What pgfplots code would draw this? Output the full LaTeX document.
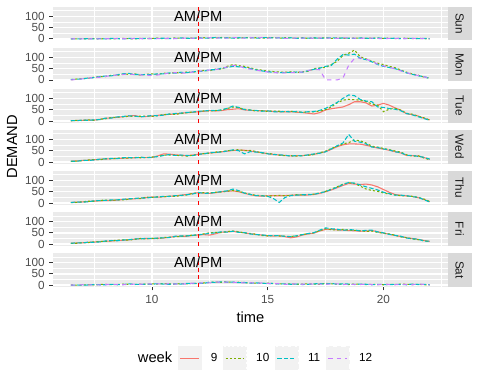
\documentclass[border=0pt]{standalone}
\usepackage{fontspec}
\setmainfont{Liberation Sans}
\usepackage{pgfplots}
\usepackage{pgfplotstable}
\pgfplotsset{compat=1.18}
\definecolor{c9}{HTML}{F8766D}
\definecolor{c10}{HTML}{7CAE00}
\definecolor{c11}{HTML}{00BFC4}
\definecolor{c12}{HTML}{C77CFF}
\definecolor{panelbg}{HTML}{EBEBEB}
\definecolor{stripbg}{HTML}{D9D9D9}
\definecolor{keybg}{HTML}{F2F2F2}
\definecolor{g30}{HTML}{4D4D4D}
\definecolor{g20}{HTML}{333333}
\definecolor{g10}{HTML}{1A1A1A}

% Sun: a=10 b=11 c=12
\pgfplotstableread{
x a b c
6.5 0 0 0
6.75 0 0 1
7 1 0 0
7.25 0 1 0
7.5 1 0 1
7.75 0 1 0
8 1 0 1
8.25 0 2 0
8.5 1 1 2
8.75 2 0 1
9 1 2 0
9.25 0 1 2
9.5 2 1 1
9.75 1 3 0
10 2 1 2
10.25 3 2 1
10.5 1 3 2
10.75 2 1 3
11 4 2 1
11.25 3 4 2
11.5 2 3 4
11.75 4 2 3
12 3 5 2
12.25 5 3 4
12.5 3 4 5
12.75 4 6 3
13 6 4 5
13.25 4 5 3
13.5 5 3 6
13.75 3 5 4
14 6 4 3
14.25 4 6 5
14.5 5 3 4
14.75 3 5 6
15 4 6 3
15.25 6 4 5
15.5 3 5 4
15.75 5 3 2
16 4 5 3
16.25 3 2 4
16.5 5 4 3
16.75 2 3 5
17 4 5 2
17.25 3 2 4
17.5 5 4 3
17.75 2 5 4
18 4 3 2
18.25 3 4 5
18.5 2 3 4
18.75 4 2 3
19 3 4 2
19.25 2 3 4
19.5 4 2 3
19.75 3 4 2
20 2 3 1
20.25 3 2 2
20.5 1 3 2
20.75 2 1 3
21 3 2 1
21.25 1 2 2
21.5 2 1 3
21.75 1 2 1
22 0 1 0
}\tSun

% Mon: a=10 b=11 c=12
\pgfplotstableread{
x a b c
6.5 1 2 0
6.75 4 3 2
7 6 4 5
7.25 7 9 8
7.5 12 10 11
7.75 14 15 12
8 15 17 16
8.25 21 18 19
8.5 20 23 22
8.75 26 27 24
9 25 29 27
9.25 27 24 23
9.5 21 24 22
9.75 25 23 21
10 27 24 20
10.25 24 27 22
10.5 30 27 26
10.75 28 31 30
11 33 30 32
11.25 30 34 31
11.5 35 32 30
11.75 33 36 35
12 40 37 38
12.25 42 39 41
12.5 41 45 44
12.75 48 45 46
13 47 52 49
13.25 60 55 58
13.5 68 60 64
13.75 63 58 62
14 60 55 52
14.25 53 50 48
14.5 47 44 43
14.75 43 40 39
15 39 36 35
15.25 37 34 33
15.5 35 32 31
15.75 34 33 31
16 36 33 32
16.25 33 35 33
16.5 36 34 35
16.75 38 41 42
17 50 47 46
17.25 53 52 45
17.5 55 60 0
17.75 68 64 0
18 82 92 0
18.25 108 112 8
18.5 118 110 65
18.75 132 114 95
19 102 95 97
19.25 93 90 92
19.5 83 80 82
19.75 74 68 70
20 68 60 62
20.25 60 55 56
20.5 54 50 49
20.75 44 42 40
21 34 31 33
21.25 26 25 23
21.5 21 18 20
21.75 13 15 14
22 8 6 7
}\tMon

% Tue: a=9 b=10 c=11
\pgfplotstableread{
x a b c
6.5 1 1 2
6.75 2 3 1
7 3 2 4
7.25 4 5 3
7.5 4 3 5
7.75 7 8 6
8 12 10 13
8.25 14 15 13
8.5 16 17 18
8.75 19 18 20
9 22 21 23
9.25 24 20 22
9.5 19 21 18
9.75 20 22 21
10 22 20 24
10.25 25 24 23
10.5 27 28 26
10.75 29 30 31
11 31 29 33
11.25 34 33 35
11.5 37 36 38
11.75 38 40 39
12 41 40 43
12.25 43 45 44
12.5 46 44 47
12.75 44 47 46
13 46 48 49
13.25 50 55 56
13.5 52 62 66
13.75 54 58 60
14 49 52 50
14.25 47 49 48
14.5 46 44 47
14.75 45 46 43
15 44 42 45
15.25 42 44 41
15.5 41 43 40
15.75 40 41 42
16 41 43 40
16.25 39 40 42
16.5 37 39 38
16.75 34 40 41
17 31 41 42
17.25 37 44 47
17.5 49 50 56
17.75 54 62 68
18 58 80 82
18.25 62 92 100
18.5 72 96 115
18.75 85 94 112
19 85 92 95
19.25 80 86 88
19.5 66 75 85
19.75 70 70 62
20 78 41 60
20.25 70 52 55
20.5 58 56 52
20.75 48 48 45
21 32 34 33
21.25 28 30 27
21.5 22 21 19
21.75 12 14 11
22 5 4 3
}\tTue

% Wed: a=9 b=10 c=11
\pgfplotstableread{
x a b c
6.5 4 3 4
6.75 5 4 3
7 7 6 8
7.25 8 9 7
7.5 10 11 9
7.75 12 10 13
8 13 15 14
8.25 15 14 16
8.5 16 17 15
8.75 17 18 19
9 18 17 20
9.25 19 21 18
9.5 20 19 22
9.75 21 20 19
10 20 22 21
10.25 27 25 24
10.5 36 30 29
10.75 35 31 33
11 32 30 29
11.25 30 28 31
11.5 28 26 29
11.75 31 30 28
12 34 33 35
12.25 37 38 36
12.5 40 39 42
12.75 42 44 43
13 45 46 44
13.25 48 50 49
13.5 51 52 54
13.75 53 55 50
14 52 50 36
14.25 49 51 46
14.5 45 47 44
14.75 41 40 42
15 37 38 36
15.25 34 35 33
15.5 31 30 32
15.75 29 28 30
16 27 28 26
16.25 28 26 29
16.5 28 29 27
16.75 31 30 32
17 34 33 36
17.25 40 41 39
17.5 46 48 45
17.75 56 60 58
18 68 70 72
18.25 76 80 84
18.5 80 86 122
18.75 80 97 92
19 79 94 88
19.25 74 84 80
19.5 68 70 66
19.75 62 66 64
20 57 60 58
20.25 52 55 54
20.5 46 49 45
20.75 40 44 42
21 29 32 30
21.25 28 26 29
21.5 27 28 25
21.75 20 18 21
22 12 10 13
}\tWed

% Thu: a=9 b=10 c=11
\pgfplotstableread{
x a b c
6.5 3 2 3
6.75 4 3 5
7 5 6 4
7.25 7 8 6
7.5 9 8 10
7.75 10 12 11
8 11 13 12
8.25 12 11 14
8.5 13 15 14
8.75 16 14 17
9 18 17 19
9.25 19 21 20
9.5 21 20 23
9.75 24 26 22
10 27 25 26
10.25 26 28 27
10.5 28 27 30
10.75 30 31 29
11 32 30 33
11.25 35 33 34
11.5 38 36 37
11.75 42 43 40
12 46 44 47
12.25 44 46 43
12.5 43 45 44
12.75 46 48 47
13 50 49 51
13.25 52 53 54
13.5 54 55 62
13.75 50 52 55
14 43 45 44
14.25 37 39 38
14.5 32 34 33
14.75 31 33 32
15 32 31 30
15.25 33 32 20
15.5 32 34 3
15.75 33 32 25
16 35 34 33
16.25 36 37 35
16.5 35 36 37
16.75 36 38 37
17 38 40 39
17.25 43 45 44
17.5 50 52 51
17.75 58 62 60
18 68 72 70
18.25 78 84 82
18.5 87 90 91
18.75 84 87 88
19 82 75 80
19.25 84 62 72
19.5 80 56 65
19.75 72 52 58
20 60 45 48
20.25 48 40 42
20.5 38 36 35
20.75 34 33 35
21 32 31 33
21.25 29 30 28
21.5 24 25 26
21.75 16 18 15
22 6 7 5
}\tThu

% Fri: a=9 b=10 c=11
\pgfplotstableread{
x a b c
6.5 4 3 4
6.75 5 4 6
7 6 7 5
7.25 8 7 9
7.5 9 10 8
7.75 11 12 10
8 13 12 14
8.25 14 15 16
8.5 16 17 15
8.75 17 19 18
9 19 18 20
9.25 22 21 23
9.5 24 25 23
9.75 25 23 26
10 24 26 25
10.25 26 25 27
10.5 27 29 28
10.75 30 31 29
11 34 33 35
11.25 35 34 36
11.5 35 37 36
11.75 38 40 39
12 41 40 42
12.25 42 46 44
12.5 40 50 48
12.75 46 52 50
13 53 51 55
13.25 54 56 53
13.5 56 58 57
13.75 53 55 52
14 50 49 51
14.25 46 47 45
14.5 43 44 42
14.75 40 38 41
15 37 36 38
15.25 36 38 37
15.5 37 36 38
15.75 33 35 34
16 28 34 33
16.25 32 36 37
16.5 40 43 42
16.75 45 46 47
17 49 50 51
17.25 58 60 62
17.5 65 68 72
17.75 66 64 68
18 63 62 66
18.25 62 65 61
18.5 60 62 64
18.75 59 61 63
19 57 60 58
19.25 58 56 61
19.5 60 58 62
19.75 55 52 54
20 49 48 50
20.25 44 45 43
20.5 38 40 39
20.75 34 32 35
21 28 29 27
21.25 25 23 24
21.5 21 20 22
21.75 16 15 14
22 12 11 13
}\tFri

% Sat: a=10 b=11 c=12
\pgfplotstableread{
x a b c
6.5 1 0 1
6.75 0 1 0
7 1 0 2
7.25 2 1 1
7.5 1 3 2
7.75 3 2 1
8 4 2 3
8.25 2 4 3
8.5 3 2 4
8.75 5 3 2
9 4 6 3
9.25 3 4 5
9.5 5 3 4
9.75 4 5 6
10 6 4 5
10.25 5 7 6
10.5 7 5 4
10.75 6 4 7
11 5 6 5
11.25 7 5 6
11.5 6 8 5
11.75 8 7 9
12 7 9 8
12.25 10 8 11
12.5 12 14 10
12.75 14 12 15
13 13 15 12
13.25 15 13 14
13.5 12 14 13
13.75 13 11 12
14 11 12 10
14.25 10 9 11
14.5 9 10 8
14.75 8 9 10
15 9 7 8
15.25 7 8 6
15.5 6 5 7
15.75 5 6 4
16 6 4 5
16.25 4 5 6
16.5 5 3 4
16.75 6 4 7
17 5 6 4
17.25 4 7 5
17.5 8 5 4
17.75 6 8 5
18 5 4 6
18.25 4 6 3
18.5 3 5 4
18.75 5 3 4
19 4 5 3
19.25 3 4 5
19.5 4 2 3
19.75 3 4 2
20 2 3 4
20.25 4 2 3
20.5 3 4 2
20.75 5 3 4
21 4 2 3
21.25 3 5 2
21.5 4 3 6
21.75 2 4 3
22 1 2 1
}\tSat

\pgfplotsset{
  panel/.style={
    scale only axis, width=296pt, height=25.3pt,
    anchor=north west,
    xmin=5.725, xmax=22.775, ymin=-6.8, ymax=142.3,
    axis background/.style={fill=panelbg},
    axis line style={draw=none},
    xtick={10,15,20}, ytick={0,50,100},
    minor xtick={7.5,12.5,17.5,22.5}, minor ytick={25,75,125},
    grid=both,
    major grid style={white, line width=1.07pt},
    minor grid style={white, line width=0.53pt},
    tick align=outside, tick pos=left,
    major tick length=2.75pt, minor tick length=0pt,
    tick style={g20, line width=0.6pt},
    ticklabel style={font=\fontsize{8.8}{10}\selectfont, text=g30},
    /pgf/number format/assume math mode=true,
    clip=false,
  },
  toppanel/.style={panel, xticklabels={}, xtick style={white}},
  w9/.style={c9, line width=0.8pt},
  w10/.style={c10, line width=0.8pt, dash pattern=on 1.6pt off 1.6pt},
  w11/.style={c11, line width=0.8pt, dash pattern=on 3.2pt off 1.6pt},
  w12/.style={c12, line width=0.8pt, dash pattern=on 3.2pt off 3.2pt},
  vl/.style={red, line width=0.75pt, dash pattern=on 3pt off 2.5pt},
}
\newcommand\strip[1]{%
  \path[fill=stripbg] (rel axis cs:1,0) rectangle ([xshift=18pt]rel axis cs:1,1);
  \node[rotate=-90, font=\fontsize{8.8}{10}\selectfont, text=g10] at ([xshift=9pt]rel axis cs:1,0.5) {#1};}
\newcommand\ampm{%
  \addplot[vl, forget plot] coordinates {(12,-6.8) (12,142.3)};
  \node[font=\fontsize{11}{13}\selectfont] at (axis cs:12,100) {AM/PM};}

\begin{document}
\begin{tikzpicture}
\useasboundingbox (0,0) rectangle (360pt,288pt);

\begin{axis}[toppanel, at={(39.75pt,282.98pt)}]
\addplot[w10, forget plot] table[x=x,y=a]{\tSun};
\addplot[w11, forget plot] table[x=x,y=b]{\tSun};
\addplot[w12, forget plot] table[x=x,y=c]{\tSun};
\ampm
\strip{Sun}
\end{axis}

\begin{axis}[toppanel, at={(39.75pt,252.19pt)}]
\addplot[w10, forget plot] table[x=x,y=a]{\tMon};
\addplot[w11, forget plot] table[x=x,y=b]{\tMon};
\addplot[w12, forget plot] table[x=x,y=c]{\tMon};
\ampm
\strip{Mon}
\end{axis}

\begin{axis}[toppanel, at={(39.75pt,221.40pt)}]
\addplot[w9, forget plot] table[x=x,y=a]{\tTue};
\addplot[w10, forget plot] table[x=x,y=b]{\tTue};
\addplot[w11, forget plot] table[x=x,y=c]{\tTue};
\ampm
\strip{Tue}
\end{axis}

\begin{axis}[toppanel, at={(39.75pt,190.61pt)}]
\addplot[w9, forget plot] table[x=x,y=a]{\tWed};
\addplot[w10, forget plot] table[x=x,y=b]{\tWed};
\addplot[w11, forget plot] table[x=x,y=c]{\tWed};
\ampm
\strip{Wed}
\end{axis}

\begin{axis}[toppanel, at={(39.75pt,159.82pt)}]
\addplot[w9, forget plot] table[x=x,y=a]{\tThu};
\addplot[w10, forget plot] table[x=x,y=b]{\tThu};
\addplot[w11, forget plot] table[x=x,y=c]{\tThu};
\ampm
\strip{Thu}
\end{axis}

\begin{axis}[toppanel, at={(39.75pt,129.03pt)}]
\addplot[w9, forget plot] table[x=x,y=a]{\tFri};
\addplot[w10, forget plot] table[x=x,y=b]{\tFri};
\addplot[w11, forget plot] table[x=x,y=c]{\tFri};
\ampm
\strip{Fri}
\end{axis}

\begin{axis}[panel, at={(39.75pt,98.24pt)},
  legend columns=5,
  legend image code/.code={%
    \fill[keybg] (0pt,-8.64pt) rectangle (17.28pt,8.64pt);
    \draw[#1] (1.7pt,0pt) -- (15.58pt,0pt);},
  legend style={at={(0.5,0)}, anchor=center, yshift=-53.5pt,
    draw=none, fill=none, font=\fontsize{8.8}{10}\selectfont,
    nodes={inner sep=0pt},
    /tikz/every odd column/.append style={column sep=7pt},
    /tikz/every even column/.append style={column sep=4pt}},
]
\addplot[w10, forget plot] table[x=x,y=a]{\tSat};
\addplot[w11, forget plot] table[x=x,y=b]{\tSat};
\addplot[w12, forget plot] table[x=x,y=c]{\tSat};
\ampm
\strip{Sat}
\addlegendimage{empty legend}
\addlegendentry{\fontsize{11}{13}\selectfont week}
\addlegendimage{w9}
\addlegendentry{9}
\addlegendimage{w10}
\addlegendentry{10}
\addlegendimage{w11}
\addlegendentry{11}
\addlegendimage{w12}
\addlegendentry{12}
\end{axis}

\node[rotate=90, font=\fontsize{11}{13}\selectfont] at (9pt,178pt) {DEMAND};
\node[font=\fontsize{11}{13}\selectfont] at (187.8pt,50.25pt) {time};
\end{tikzpicture}
\end{document}
